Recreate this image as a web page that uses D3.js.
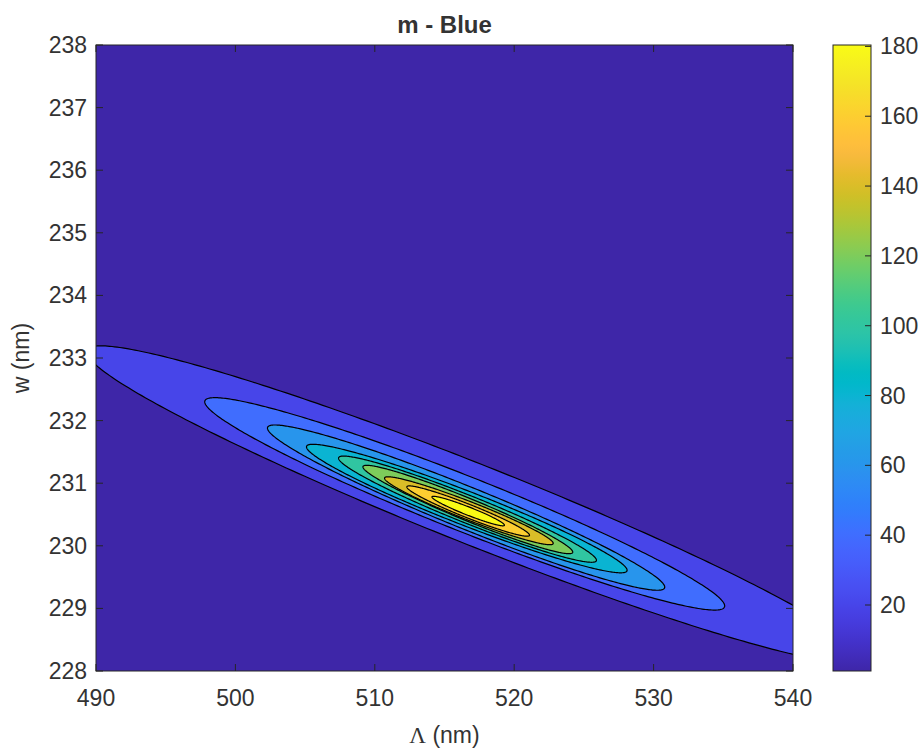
<!DOCTYPE html>
<html><head><meta charset="utf-8">
<script src="https://cdn.jsdelivr.net/npm/d3@7"></script>
<style>
body{margin:0;background:#fff;}
text{font-family:"Liberation Sans",Arial,Helvetica,sans-serif;fill:#333333;}
</style>
</head><body>
<svg id="chart" width="918" height="749"></svg>
<script>
// ---------- data ----------
const xTicks = [490, 500, 510, 520, 530, 540];
const yTicks = [228, 229, 230, 231, 232, 233, 234, 235, 236, 237, 238];
const cbTicks = [20, 40, 60, 80, 100, 120, 140, 160, 180];
const levels = [20, 40, 60, 80, 100, 120, 140, 160, 180];
// each contour level is an elongated closed curve: left tip, right tip, vertical half-thickness at its middle
const tipLeftX   = [489.3, 497.8, 502.3, 505.1, 507.4, 509.15, 510.7, 512.3, 514.1];
const tipLeftY   = [233.10, 232.30, 231.88, 231.58, 231.40, 231.26, 231.08, 230.94, 230.78];
const tipRightX  = [545.0, 535.1, 530.8, 528.1, 525.9, 524.2, 522.8, 521.1, 519.3];
const tipRightY  = [228.22, 229.04, 229.34, 229.61, 229.77, 229.90, 230.04, 230.17, 230.33];
const halfThick  = [0.685, 0.47, 0.36, 0.29, 0.235, 0.19, 0.155, 0.115, 0.07];
const valueMin = 1.1, valueMax = 180.4;

// parula colormap (64 entries)
const parula = [
[0.2422,0.1504,0.6603],[0.2504,0.1650,0.7076],[0.2578,0.1818,0.7511],[0.2647,0.1978,0.7952],
[0.2706,0.2147,0.8364],[0.2751,0.2342,0.8710],[0.2783,0.2559,0.8991],[0.2803,0.2782,0.9221],
[0.2813,0.3006,0.9414],[0.2810,0.3228,0.9579],[0.2795,0.3447,0.9717],[0.2760,0.3667,0.9829],
[0.2699,0.3892,0.9906],[0.2602,0.4123,0.9952],[0.2440,0.4358,0.9988],[0.2206,0.4603,0.9973],
[0.1963,0.4847,0.9892],[0.1834,0.5074,0.9798],[0.1786,0.5289,0.9682],[0.1764,0.5499,0.9520],
[0.1687,0.5703,0.9359],[0.1540,0.5902,0.9218],[0.1460,0.6091,0.9079],[0.1380,0.6276,0.8973],
[0.1248,0.6459,0.8883],[0.1113,0.6635,0.8763],[0.0952,0.6798,0.8598],[0.0689,0.6948,0.8394],
[0.0297,0.7082,0.8163],[0.0036,0.7203,0.7917],[0.0067,0.7312,0.7660],[0.0433,0.7411,0.7394],
[0.0964,0.7500,0.7120],[0.1408,0.7584,0.6842],[0.1717,0.7670,0.6554],[0.1938,0.7758,0.6251],
[0.2161,0.7843,0.5923],[0.2470,0.7918,0.5567],[0.2906,0.7973,0.5188],[0.3406,0.8008,0.4789],
[0.3909,0.8029,0.4354],[0.4456,0.8024,0.3909],[0.5044,0.7993,0.3480],[0.5616,0.7942,0.3045],
[0.6174,0.7876,0.2612],[0.6720,0.7793,0.2227],[0.7242,0.7698,0.1910],[0.7738,0.7598,0.1646],
[0.8203,0.7498,0.1535],[0.8634,0.7406,0.1596],[0.9035,0.7330,0.1774],[0.9393,0.7288,0.2100],
[0.9728,0.7298,0.2394],[0.9956,0.7434,0.2371],[0.9970,0.7659,0.2199],[0.9952,0.7893,0.2028],
[0.9892,0.8136,0.1885],[0.9786,0.8386,0.1766],[0.9676,0.8639,0.1643],[0.9610,0.8890,0.1537],
[0.9597,0.9135,0.1423],[0.9628,0.9373,0.1265],[0.9691,0.9606,0.1064],[0.9769,0.9839,0.0805]];

function parulaAt(t){
  t = Math.max(0, Math.min(1, t));
  const f = t*(parula.length-1), i = Math.floor(f), r = f-i;
  const a = parula[i], b = parula[Math.min(i+1, parula.length-1)];
  const c = a.map((v,k)=>Math.round(255*(v+(b[k]-v)*r)));
  return `rgb(${c[0]},${c[1]},${c[2]})`;
}
const colorOf = v => parulaAt((v-valueMin)/(valueMax-valueMin));

// ---------- layout ----------
const svg = d3.select("#chart");
const L = 96, R = 793, T = 45, B = 671;
const cbL = 833, cbW = 38;
const x = d3.scaleLinear().domain([490, 540]).range([L, R]);
const y = d3.scaleLinear().domain([228, 238]).range([B, T]);
const cbScale = d3.scaleLinear().domain([valueMin, valueMax]).range([B, T]);
const FS = 23;

const defs = svg.append("defs");
defs.append("clipPath").attr("id","plotClip").append("rect")
  .attr("x",L).attr("y",T).attr("width",R-L).attr("height",B-T);

// background (below lowest level)
svg.append("rect").attr("x",L).attr("y",T).attr("width",R-L).attr("height",B-T)
  .attr("fill", colorOf(valueMin));

function curvePoints(i){
  const cx = (tipLeftX[i]+tipRightX[i])/2, cy = (tipLeftY[i]+tipRightY[i])/2;
  const A = (tipRightX[i]-tipLeftX[i])/2, C = (tipRightY[i]-tipLeftY[i])/2, Bh = halfThick[i];
  const pts = [];
  for (let k=0;k<360;k++){
    const t = k*Math.PI/180;
    pts.push([cx + A*Math.cos(t), cy + C*Math.cos(t) + Bh*Math.sin(t)]);
  }
  return pts;
}
const line = d3.line().x(d=>x(d[0])).y(d=>y(d[1])).curve(d3.curveLinearClosed);
const g = svg.append("g").attr("clip-path","url(#plotClip)");
levels.forEach((lv,i)=>{
  g.append("path").attr("d", line(curvePoints(i)))
    .attr("fill", colorOf(lv)).attr("stroke","#000").attr("stroke-width",1.2);
});

// axes box + ticks (inside, mirrored)
const axG = svg.append("g").attr("stroke","#262626").attr("stroke-width",1);
const tk = 7;
xTicks.forEach(v=>{
  axG.append("line").attr("x1",x(v)).attr("x2",x(v)).attr("y1",B).attr("y2",B-tk);
  axG.append("line").attr("x1",x(v)).attr("x2",x(v)).attr("y1",T).attr("y2",T+tk);
});
yTicks.forEach(v=>{
  axG.append("line").attr("x1",L).attr("x2",L+tk).attr("y1",y(v)).attr("y2",y(v));
  axG.append("line").attr("x1",R).attr("x2",R-tk).attr("y1",y(v)).attr("y2",y(v));
});
svg.append("rect").attr("x",L).attr("y",T).attr("width",R-L).attr("height",B-T)
  .attr("fill","none").attr("stroke","#262626").attr("stroke-width",1);

// tick labels
svg.append("g").selectAll("text").data(xTicks).join("text")
  .attr("x",d=>x(d)).attr("y",B+35).attr("text-anchor","middle")
  .attr("font-size",FS).text(d=>d);
svg.append("g").selectAll("text").data(yTicks).join("text")
  .attr("x",L-9).attr("y",d=>y(d)+8).attr("text-anchor","end")
  .attr("font-size",FS).text(d=>d);

// axis labels and title
const xl = svg.append("text").attr("x",(L+R)/2).attr("y",743).attr("text-anchor","middle").attr("font-size",FS);
xl.append("tspan").attr("font-family","'Liberation Serif','Times New Roman',serif").text("Λ");
xl.append("tspan").text(" (nm)");
svg.append("text").attr("transform",`translate(${L-67},${(T+B)/2}) rotate(-90)`)
  .attr("text-anchor","middle").attr("font-size",FS).text("w (nm)");
svg.append("text").attr("x",(L+R)/2).attr("y",T-12).attr("text-anchor","middle")
  .attr("font-size",FS+1).attr("font-weight","bold").attr("fill","#111").text("m - Blue");

// colorbar
const grad = defs.append("linearGradient").attr("id","cbGrad")
  .attr("x1",0).attr("y1",1).attr("x2",0).attr("y2",0);
parula.forEach((c,i)=>{
  grad.append("stop").attr("offset", i/(parula.length-1))
    .attr("stop-color", parulaAt(i/(parula.length-1)));
});
svg.append("rect").attr("x",cbL).attr("y",T).attr("width",cbW).attr("height",B-T)
  .attr("fill","url(#cbGrad)").attr("stroke","#262626").attr("stroke-width",1);
const cbG = svg.append("g");
cbTicks.forEach(v=>{
  cbG.append("line").attr("x1",cbL+cbW).attr("x2",cbL+cbW-6)
    .attr("y1",cbScale(v)).attr("y2",cbScale(v)).attr("stroke","#262626");
  cbG.append("text").attr("x",cbL+cbW+9).attr("y",cbScale(v)+8)
    .attr("font-size",FS).text(v);
});
</script>
</body></html>
